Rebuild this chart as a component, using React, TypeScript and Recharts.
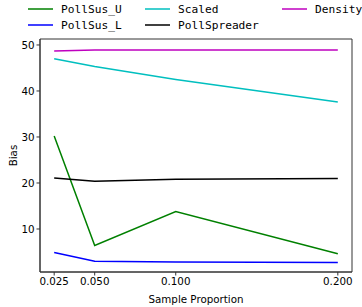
import { Line, LineChart, ReferenceArea, XAxis, YAxis } from 'recharts';

const proportions = [0.025, 0.05, 0.1, 0.2];
const pollSusU = [30.2, 6.4, 13.8, 4.6];
const pollSusL = [4.9, 3.0, 2.85, 2.7];
const scaled = [47.0, 45.3, 42.5, 37.6];
const pollSpreader = [21.1, 20.4, 20.8, 21.0];
const density = [48.7, 48.9, 48.9, 48.9];

const xTicks = [0.025, 0.05, 0.1, 0.2];
const yTicks = [10, 20, 30, 40, 50];

const X_DOMAIN: [number, number] = [0.01625, 0.20875];
const Y_DOMAIN: [number, number] = [0.65, 51.3];

const series = [
  { key: 'PollSus_U', color: '#008000', values: pollSusU },
  { key: 'PollSus_L', color: '#0000ff', values: pollSusL },
  { key: 'Scaled', color: '#00bfbf', values: scaled },
  { key: 'PollSpreader', color: '#000000', values: pollSpreader },
  { key: 'Density', color: '#bf00bf', values: density },
];

const data = proportions.map((p, i) => {
  const row: Record<string, number> = { p };
  series.forEach((s) => (row[s.key] = s.values[i]));
  return row;
});

// legend slots, matplotlib style: 3 columns, filled column-first
const legendCols = [28, 145, 282];
const legendRows = [9, 25];

function LegendBox() {
  return (
    <svg
      width={362}
      height={36}
      style={{ position: 'absolute', left: 0, top: 0, pointerEvents: 'none' }}
    >
      {series.map((s, i) => {
        const col = Math.floor(i / 2);
        const row = i % 2;
        const x = legendCols[col];
        const y = legendRows[row];
        return (
          <g key={s.key}>
            <line x1={x} x2={x + 25} y1={y} y2={y} stroke={s.color} strokeWidth={1.5} />
            <text
              x={x + 33}
              y={y + 4}
              fontSize={11.2}
              fontFamily="DejaVu Sans Mono"
              fill="#000"
            >
              {s.key}
            </text>
          </g>
        );
      })}
    </svg>
  );
}

const tickStyle = { fontSize: 10.3, fill: '#000', fontFamily: 'DejaVu Sans' };

export default function App() {
  return (
    <div style={{ position: 'absolute', left: 0, top: 0, width: 362, height: 307, background: '#fff' }}>
      <LineChart
        width={362}
        height={307}
        data={data}
        margin={{ top: 39, right: 10, bottom: 0, left: 0 }}
      >
        <XAxis
          dataKey="p"
          type="number"
          domain={X_DOMAIN}
          ticks={xTicks}
          tickFormatter={(v: number) => v.toFixed(3)}
          allowDataOverflow
          height={35}
          tick={tickStyle}
          tickSize={3.5}
          tickMargin={2}
          stroke="#333"
          label={{
            value: 'Sample Proportion',
            position: 'insideBottom',
            offset: 4,
            style: { fontSize: 10.3, fill: '#000', fontFamily: 'DejaVu Sans' },
          }}
        />
        <YAxis
          type="number"
          domain={Y_DOMAIN}
          ticks={yTicks}
          allowDataOverflow
          width={40}
          tick={tickStyle}
          tickSize={3.5}
          tickMargin={2}
          stroke="#333"
          label={(props: any) => {
            const vb = props.viewBox;
            const cy = vb.y + vb.height / 2;
            return (
              <text
                x={13}
                y={cy}
                transform={`rotate(-90 13 ${cy})`}
                textAnchor="middle"
                dominantBaseline="central"
                fontSize={10.3}
                fontFamily="DejaVu Sans"
                fill="#000"
              >
                Bias
              </text>
            );
          }}
        />
        {/* axes frame (matplotlib spines) */}
        <ReferenceArea
          x1={X_DOMAIN[0]}
          x2={X_DOMAIN[1]}
          y1={Y_DOMAIN[0]}
          y2={Y_DOMAIN[1]}
          fill="none"
          stroke="#333"
          strokeWidth={1}
          ifOverflow="visible"
        />
        {series.map((s) => (
          <Line
            key={s.key}
            dataKey={s.key}
            stroke={s.color}
            strokeWidth={1.5}
            dot={false}
            isAnimationActive={false}
          />
        ))}
      </LineChart>
      <LegendBox />
    </div>
  );
}
